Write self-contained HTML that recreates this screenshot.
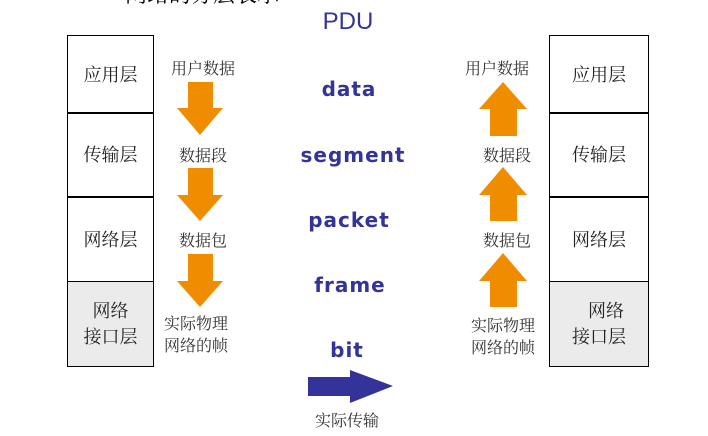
<!DOCTYPE html>
<html><head><meta charset="utf-8"><style>
body{margin:0;width:708px;height:436px;background:#fff;position:relative;overflow:hidden;font-family:"Liberation Serif","Noto Serif CJK SC",serif}
.a{position:absolute}
.box{position:absolute;border:1.5px solid #000;box-sizing:border-box;display:flex;align-items:center;justify-content:center;font-size:18px;color:#222;text-align:center;line-height:26px}
.lb{position:absolute;font-size:16px;color:#333;text-align:center;line-height:22px;transform:translateX(-50%);white-space:nowrap}
.pdu{position:absolute;color:#333399;font-weight:bold;font-size:20px;letter-spacing:1px;transform:translateX(-50%);white-space:nowrap;font-family:"DejaVu Sans",sans-serif}
</style></head><body>
<div class="a" style="left:125px;top:-22px;font-size:22px;color:#000;white-space:nowrap">网络的分层表示</div>
<div class="a" style="left:348px;top:8px;transform:translateX(-50%);font-size:24px;color:#333399;font-family:'Liberation Sans',sans-serif">PDU</div>
<div class="pdu" style="left:349px;top:77px">data</div>
<div class="pdu" style="left:353px;top:143px">segment</div>
<div class="pdu" style="left:349px;top:208px">packet</div>
<div class="pdu" style="left:350px;top:273px">frame</div>
<div class="pdu" style="left:347px;top:338px">bit</div>

<div class="box" style="left:67px;top:35px;width:87px;height:79px">应用层</div>
<div class="box" style="left:67px;top:112px;width:87px;height:86px">传输层</div>
<div class="box" style="left:67px;top:196px;width:87px;height:87px">网络层</div>
<div class="box" style="left:67px;top:281px;width:87px;height:86px;background:#ebebeb">网络<br>接口层</div>

<div class="box" style="left:549px;top:35px;width:100px;height:79px">应用层</div>
<div class="box" style="left:549px;top:112px;width:100px;height:86px">传输层</div>
<div class="box" style="left:549px;top:196px;width:100px;height:87px">网络层</div>
<div class="box" style="left:549px;top:281px;width:100px;height:86px;background:#ebebeb"><span><span style="padding-left:14px">网络</span><br>接口层</span></div>

<div class="lb" style="left:203px;top:59px">用户数据</div>
<div class="lb" style="left:203px;top:146px">数据段</div>
<div class="lb" style="left:203px;top:231px">数据包</div>
<div class="lb" style="left:196px;top:314px">实际物理<br>网络的帧</div>

<div class="lb" style="left:497px;top:59px">用户数据</div>
<div class="lb" style="left:507px;top:146px">数据段</div>
<div class="lb" style="left:507px;top:231px">数据包</div>
<div class="lb" style="left:503px;top:316px">实际物理<br>网络的帧</div>
<div class="lb" style="left:347px;top:411px">实际传输</div>

<svg class="a" style="left:0;top:0" width="708" height="436">
<g fill="#f08c00">
<polygon points="188,82 213,82 213,108 223,108 200,135 177,108 188,108"/>
<polygon points="188,168 213,168 213,195 223,195 200,221 177,195 188,195"/>
<polygon points="188,254 213,254 213,281 223,281 200,307 177,281 188,281"/>
<polygon points="503,82 527,109 517,109 517,136 490,136 490,109 479,109"/>
<polygon points="503,167 527,195 517,195 517,221 490,221 490,195 479,195"/>
<polygon points="503,253 527,281 517,281 517,307 490,307 490,281 479,281"/>
</g>
<polygon fill="#333399" points="308,377 350,377 350,370 393,386 350,403 350,396 308,396"/>
</svg>
</body></html>
